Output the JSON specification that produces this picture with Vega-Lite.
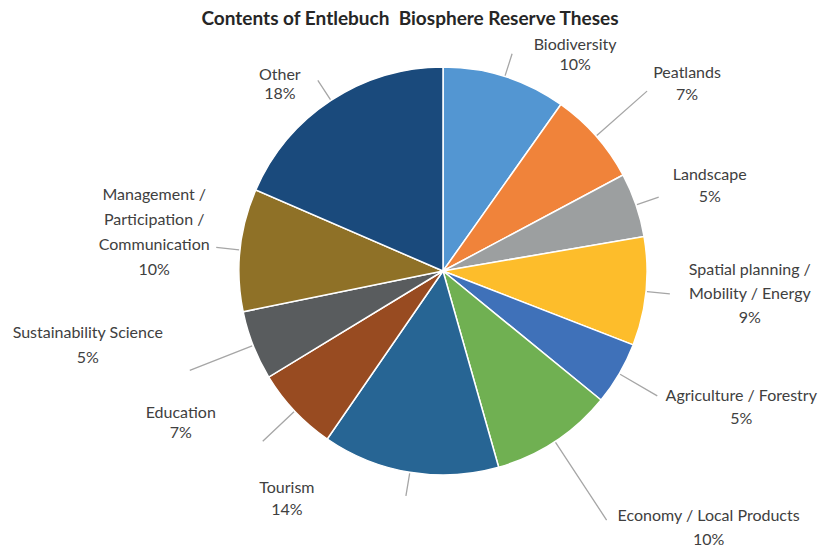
{
  "$schema": "https://vega.github.io/schema/vega-lite/v6.json",
  "width": 600,
  "height": 440,
  "autosize": {"type": "none"},
  "padding": {"left": 143, "top": 51, "right": 76, "bottom": 54},
  "background": "white",
  "title": {
    "text": "Contents of Entlebuch\u00a0 Biosphere Reserve Theses",
    "font": "Lato",
    "fontSize": 19,
    "fontWeight": "bold",
    "color": "#262626",
    "anchor": "middle",
    "frame": "group",
    "dx": -33,
    "offset": -62
  },
  "data": {
    "values": [
      {"n": 1, "topic": "Biodiversity", "value": 9.8, "label": "Biodiversity\n10%"},
      {"n": 2, "topic": "Peatlands", "value": 7.4, "label": "Peatlands\n7%"},
      {"n": 3, "topic": "Landscape", "value": 5.1, "label": "Landscape\n5%"},
      {"n": 4, "topic": "Spatial planning / Mobility / Energy", "value": 8.6, "label": "Spatial planning /\nMobility / Energy\n9%"},
      {"n": 5, "topic": "Agriculture / Forestry", "value": 5.0, "label": "Agriculture / Forestry\n5%"},
      {"n": 6, "topic": "Economy / Local Products", "value": 9.7, "label": "Economy / Local Products\n10%"},
      {"n": 7, "topic": "Tourism", "value": 14.0, "label": "Tourism\n14%"},
      {"n": 8, "topic": "Education", "value": 6.7, "label": "Education\n7%"},
      {"n": 9, "topic": "Sustainability Science", "value": 5.5, "label": "Sustainability Science\n5%"},
      {"n": 10, "topic": "Management / Participation / Communication", "value": 9.7, "label": "Management /\nParticipation /\nCommunication\n10%"},
      {"n": 11, "topic": "Other", "value": 18.5, "label": "Other\n18%"}
    ]
  },
  "encoding": {
    "theta": {"field": "value", "type": "quantitative", "stack": true},
    "order": {"field": "n", "type": "quantitative"},
    "detail": {"field": "topic", "type": "nominal"}
  },
  "layer": [
    {
      "mark": {"type": "arc", "radius": 204, "stroke": "white", "strokeWidth": 1.5},
      "encoding": {
        "color": {
          "field": "topic",
          "type": "nominal",
          "legend": null,
          "scale": {
            "domain": ["Biodiversity", "Peatlands", "Landscape", "Spatial planning / Mobility / Energy", "Agriculture / Forestry", "Economy / Local Products", "Tourism", "Education", "Sustainability Science", "Management / Participation / Communication", "Other"],
            "range": ["#5396D2", "#F0833A", "#9C9FA0", "#FDBD2B", "#3F71B9", "#70B052", "#276594", "#984B21", "#595C5E", "#8F7127", "#1A4A7C"]
          }
        }
      }
    },
    {
      "mark": {"type": "arc", "filled": false, "radius": 228, "radius2": 205, "padAngle": 3, "stroke": "#A6A6A6", "strokeWidth": 1.3},
      "encoding": {
        "strokeOpacity": {"condition": {"test": "indexof(['Biodiversity','Landscape','Spatial planning / Mobility / Energy','Management / Participation / Communication','Other','Tourism'], datum.topic) >= 0", "value": 1}, "value": 0}
      }
    },
    {
      "mark": {"type": "arc", "filled": false, "radius": 248, "radius2": 205, "padAngle": 3, "stroke": "#A6A6A6", "strokeWidth": 1.3},
      "encoding": {
        "strokeOpacity": {"condition": {"test": "indexof(['Agriculture / Forestry','Education'], datum.topic) >= 0", "value": 1}, "value": 0}
      }
    },
    {
      "mark": {"type": "arc", "filled": false, "radius": 272, "radius2": 205, "padAngle": 3, "stroke": "#A6A6A6", "strokeWidth": 1.3},
      "encoding": {
        "strokeOpacity": {"condition": {"test": "indexof(['Peatlands','Sustainability Science'], datum.topic) >= 0", "value": 1}, "value": 0}
      }
    },
    {
      "mark": {"type": "arc", "filled": false, "radius": 298, "radius2": 205, "padAngle": 3, "stroke": "#A6A6A6", "strokeWidth": 1.3},
      "encoding": {
        "strokeOpacity": {"condition": {"test": "datum.topic === 'Economy / Local Products'", "value": 1}, "value": 0}
      }
    },
    {
      "mark": {"type": "text", "radius": 228, "dx": 63, "dy": -9, "lineBreak": "\n", "lineHeight": 20, "font": "Lato", "fontSize": 16, "color": "#404040"},
      "encoding": {"text": {"field": "label"}, "opacity": {"condition": {"test": "datum.topic === 'Biodiversity'", "value": 1}, "value": 0}}
    },
    {
      "mark": {"type": "text", "radius": 272, "dx": 40, "dy": -18, "lineBreak": "\n", "lineHeight": 22, "font": "Lato", "fontSize": 16, "color": "#404040"},
      "encoding": {"text": {"field": "label"}, "opacity": {"condition": {"test": "datum.topic === 'Peatlands'", "value": 1}, "value": 0}}
    },
    {
      "mark": {"type": "text", "radius": 228, "dx": 51, "dy": -22, "lineBreak": "\n", "lineHeight": 22, "font": "Lato", "fontSize": 16, "color": "#404040"},
      "encoding": {"text": {"field": "label"}, "opacity": {"condition": {"test": "datum.topic === 'Landscape'", "value": 1}, "value": 0}}
    },
    {
      "mark": {"type": "text", "radius": 228, "dx": 80, "dy": -24, "lineBreak": "\n", "lineHeight": 24, "font": "Lato", "fontSize": 16, "color": "#404040"},
      "encoding": {"text": {"field": "label"}, "opacity": {"condition": {"test": "datum.topic === 'Spatial planning / Mobility / Energy'", "value": 1}, "value": 0}}
    },
    {
      "mark": {"type": "text", "radius": 248, "dx": 84, "dy": 0, "lineBreak": "\n", "lineHeight": 23, "font": "Lato", "fontSize": 16, "color": "#404040"},
      "encoding": {"text": {"field": "label"}, "opacity": {"condition": {"test": "datum.topic === 'Agriculture / Forestry'", "value": 1}, "value": 0}}
    },
    {
      "mark": {"type": "text", "radius": 298, "dx": 102, "dy": -4, "lineBreak": "\n", "lineHeight": 24, "font": "Lato", "fontSize": 16, "color": "#404040"},
      "encoding": {"text": {"field": "label"}, "opacity": {"condition": {"test": "datum.topic === 'Economy / Local Products'", "value": 1}, "value": 0}}
    },
    {
      "mark": {"type": "text", "radius": 228, "dx": -119, "dy": -8, "lineBreak": "\n", "lineHeight": 22, "font": "Lato", "fontSize": 16, "color": "#404040"},
      "encoding": {"text": {"field": "label"}, "opacity": {"condition": {"test": "datum.topic === 'Tourism'", "value": 1}, "value": 0}}
    },
    {
      "mark": {"type": "text", "radius": 248, "dx": -82, "dy": -28, "lineBreak": "\n", "lineHeight": 20, "font": "Lato", "fontSize": 16, "color": "#404040"},
      "encoding": {"text": {"field": "label"}, "opacity": {"condition": {"test": "datum.topic === 'Education'", "value": 1}, "value": 0}}
    },
    {
      "mark": {"type": "text", "radius": 272, "dx": -102, "dy": -37, "lineBreak": "\n", "lineHeight": 25, "font": "Lato", "fontSize": 16, "color": "#404040"},
      "encoding": {"text": {"field": "label"}, "opacity": {"condition": {"test": "datum.topic === 'Sustainability Science'", "value": 1}, "value": 0}}
    },
    {
      "mark": {"type": "text", "radius": 228, "dx": -62, "dy": -52, "lineBreak": "\n", "lineHeight": 25, "font": "Lato", "fontSize": 16, "color": "#404040"},
      "encoding": {"text": {"field": "label"}, "opacity": {"condition": {"test": "datum.topic === 'Management / Participation / Communication'", "value": 1}, "value": 0}}
    },
    {
      "mark": {"type": "text", "radius": 228, "dx": -38, "dy": -5, "lineBreak": "\n", "lineHeight": 19, "font": "Lato", "fontSize": 16, "color": "#404040"},
      "encoding": {"text": {"field": "label"}, "opacity": {"condition": {"test": "datum.topic === 'Other'", "value": 1}, "value": 0}}
    }
  ]
}
